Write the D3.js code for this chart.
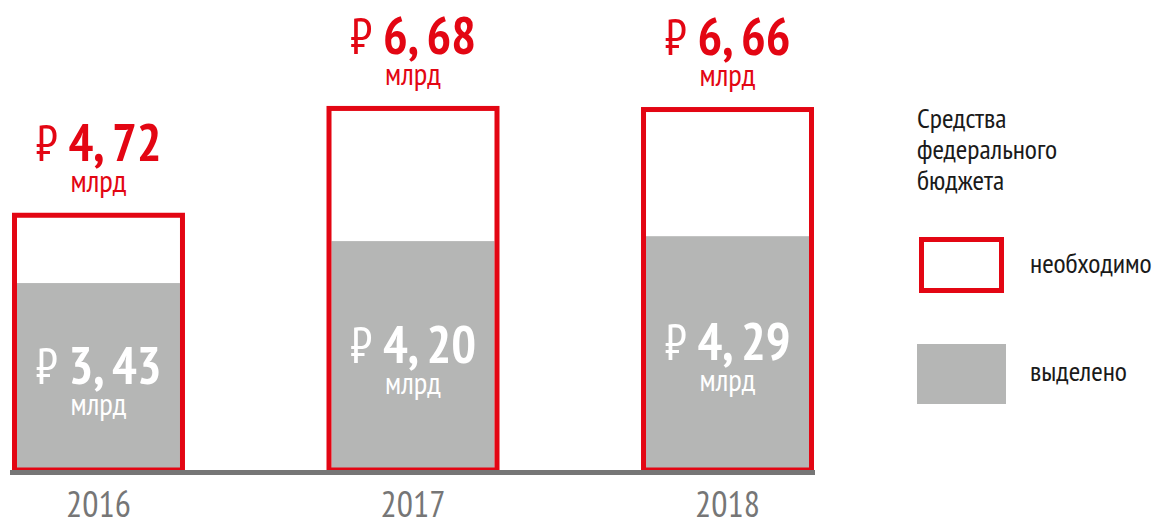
<!DOCTYPE html>
<html>
<head>
<meta charset="utf-8">
<script src="https://cdn.jsdelivr.net/npm/d3@7"></script>
<style>
	body { margin: 0; background: #fff; }
	svg { display: block; font-family: "PT Sans Narrow", "Liberation Sans Narrow", "DejaVu Sans Condensed", sans-serif; }
</style>
</head>
<body>
<div id="chart"></div>
<script>
// values (billion rubles)
const years = ["2016", "2017", "2018"]
const needed = [4.72, 6.68, 6.66]
const allocated = [3.43, 4.20, 4.29]
const neededLabels = ["4, 72", "6, 68", "6, 66"]
const allocatedLabels = ["3, 43", "4, 20", "4, 29"]
const unitLabel = "млрд"
const legendTitle = ["Средства", "федерального", "бюджета"]
const legendItems = ["необходимо", "выделено"]

const W = 1155
const H = 520
const baseY = 470
const red = "#e30613"
const grey = "#b5b6b5"

const svg = d3.select("#chart")
	.append("svg")
	.attr("width", W)
	.attr("height", H)

const x = d3.scaleBand()
	.domain(years)
	.range([12, 814])
	.paddingInner(0.45)
	.paddingOuter(0)

const y = d3.scaleLinear()
	.domain([0, 8.5])
	.range([baseY, baseY - 8.5 * 54.5])

const data = years.map((yr, i) => ({
	year: yr,
	need: needed[i],
	alloc: allocated[i],
	needLabel: neededLabels[i],
	allocLabel: allocatedLabels[i],
}))

const bars = svg.selectAll(".bar")
	.data(data)
	.join("g")
	.attr("class", "bar")

// grey allocated part
bars.append("rect")
	.attr("x", (d) => x(d.year) + 5)
	.attr("width", x.bandwidth() - 10)
	.attr("y", (d) => y(d.alloc))
	.attr("height", (d) => baseY - y(d.alloc))
	.attr("fill", grey)

// red outline for the needed amount
bars.append("rect")
	.attr("x", (d) => x(d.year) + 2.5)
	.attr("width", x.bandwidth() - 5)
	.attr("y", (d) => y(d.need) + 2.5)
	.attr("height", (d) => baseY - y(d.need) - 2.5)
	.attr("fill", "none")
	.attr("stroke", red)
	.attr("stroke-width", 5)

function moneyLabel(g, cy, text, color) {
	const t = g.append("text")
		.attr("x", (d) => x(d.year) + x.bandwidth() / 2)
		.attr("y", cy)
		.attr("text-anchor", "middle")
		.attr("fill", color)
	t.append("tspan")
		.attr("font-size", 50)
		.attr("font-weight", "normal")
		.text("₽ ")
	t.append("tspan")
		.attr("font-size", 52)
		.attr("font-weight", "bold")
		.text(text)
}

// labels above the bars
moneyLabel(bars, (d) => y(d.need) - 52, (d) => d.needLabel, red)
bars.append("text")
	.attr("x", (d) => x(d.year) + x.bandwidth() / 2)
	.attr("y", (d) => y(d.need) - 21)
	.attr("text-anchor", "middle")
	.attr("fill", red)
	.attr("font-size", 31)
	.text(unitLabel)

// labels inside the grey part
const midAlloc = (d) => (y(d.alloc) + baseY) / 2
moneyLabel(bars, (d) => midAlloc(d) + 7, (d) => d.allocLabel, "#fff")
bars.append("text")
	.attr("x", (d) => x(d.year) + x.bandwidth() / 2)
	.attr("y", (d) => midAlloc(d) + 38)
	.attr("text-anchor", "middle")
	.attr("fill", "#fff")
	.attr("font-size", 31)
	.text(unitLabel)

// baseline axis
const axis = svg.append("g")
	.attr("transform", `translate(0,${baseY + 2.5})`)
	.call(d3.axisBottom(x).tickSize(0).tickSizeOuter(0))
	.attr("font-family", null)
	.attr("font-size", null)
axis.select(".domain")
	.attr("d", "M10,0H815")
	.attr("stroke", "#767676")
	.attr("stroke-width", 5)
axis.selectAll(".tick text")
	.attr("dy", null)
	.attr("y", 44)
	.attr("font-size", 36)
	.attr("fill", "#767676")

// legend
const legend = svg.append("g").attr("transform", "translate(917,0)")
legend.append("text")
	.attr("font-size", 28)
	.attr("fill", "#1a1a1a")
	.selectAll("tspan")
	.data(legendTitle)
	.join("tspan")
	.attr("x", 0)
	.attr("y", (d, i) => 128 + i * 31)
	.text((d) => d)

legend.append("rect")
	.attr("x", 4.5)
	.attr("y", 239.5)
	.attr("width", 80)
	.attr("height", 51)
	.attr("fill", "#fff")
	.attr("stroke", red)
	.attr("stroke-width", 5)

legend.append("rect")
	.attr("x", 0)
	.attr("y", 344)
	.attr("width", 89)
	.attr("height", 60)
	.attr("fill", grey)

legend.selectAll(".item")
	.data(legendItems)
	.join("text")
	.attr("class", "item")
	.attr("x", 113)
	.attr("y", (d, i) => [273, 381][i])
	.attr("font-size", 28)
	.attr("fill", "#1a1a1a")
	.text((d) => d)
</script>
</body>
</html>
